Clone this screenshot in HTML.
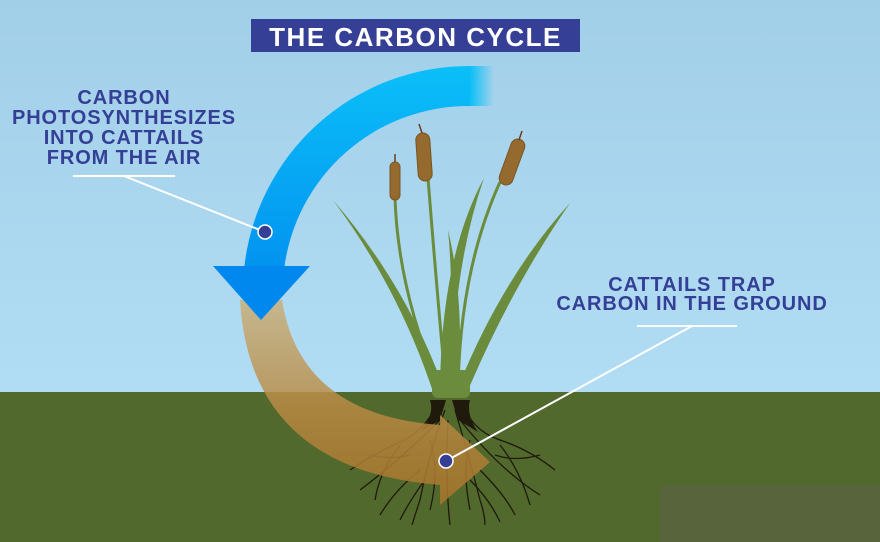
<!DOCTYPE html>
<html><head><meta charset="utf-8"><style>
html,body{margin:0;padding:0;width:880px;height:542px;overflow:hidden}
svg{display:block}
text{font-family:"Liberation Sans",sans-serif;font-weight:bold}
</style></head><body>
<svg width="880" height="542" viewBox="0 0 880 542" xmlns="http://www.w3.org/2000/svg">
<defs>
<linearGradient id="sky" x1="0" y1="0" x2="0" y2="1"><stop offset="0" stop-color="#a2cfe8"/><stop offset="1" stop-color="#b1ddf4"/></linearGradient>
<linearGradient id="blue" x1="0" y1="66" x2="0" y2="320" gradientUnits="userSpaceOnUse"><stop offset="0" stop-color="#0bbff8"/><stop offset="1" stop-color="#0088ee"/></linearGradient>
<linearGradient id="fade" x1="0" y1="0" x2="1" y2="0"><stop offset="0" stop-color="#0bbff8" stop-opacity="1"/><stop offset="1" stop-color="#0bbff8" stop-opacity="0"/></linearGradient>
<linearGradient id="brown" x1="0" y1="0" x2="0" y2="1"><stop offset="0" stop-color="#c9b17d"/><stop offset="0.5" stop-color="#b98b45"/><stop offset="1" stop-color="#a8742a"/></linearGradient>
</defs>
<rect width="880" height="392" fill="url(#sky)"/>
<rect y="392" width="880" height="150" fill="#52692d"/>
<rect x="660" y="485" width="220" height="57" fill="#58653c"/>

<!-- leaves -->
<g fill="#6b8c3c">
<path d="M434 395 Q400 290 333 200 Q410 290 446 395Z"/>
<path d="M455 395 Q500 280 570 203 Q510 290 466 395Z"/>
<path d="M440 395 Q440 260 484 178 Q452 270 452 395Z"/>
<path d="M446 395 Q455 300 448 230 Q465 300 458 395Z"/>
<rect x="432" y="370" width="38" height="28" rx="6"/>
</g>
<g fill="none" stroke="#6b8c3c" stroke-width="3">
<path d="M395 198 Q398 290 440 390"/>
<path d="M428 178 Q436 280 446 390"/>
<path d="M500 182 Q460 270 458 390"/>
</g>
<!-- cattails -->
<g fill="#956a2f" stroke="#7a5420" stroke-width="1">
<rect x="390" y="162" width="10" height="38" rx="5"/>
<rect x="417" y="133" width="14" height="48" rx="7" transform="rotate(-4 424 157)"/>
<rect x="505" y="138" width="14" height="48" rx="7" transform="rotate(20 512 162)"/>
</g>
<g stroke="#6b3e1e" stroke-width="1.5">
<line x1="395" y1="162" x2="395" y2="154"/>
<line x1="422" y1="133" x2="419" y2="124"/>
<line x1="519" y1="140" x2="522" y2="131"/>
</g>
<!-- roots -->
<g fill="none" stroke="#1f1a0c" stroke-width="1.3">
<path d="M438 400 Q430 425 405 440 Q380 450 350 470"/>
<path d="M462 400 Q470 430 500 440 Q530 450 555 470"/>
<path d="M445 410 Q430 450 420 500 Q415 515 412 525"/>
<path d="M455 410 Q470 460 480 500 Q485 515 485 525"/>
<path d="M440 420 Q400 460 360 490"/>
<path d="M460 420 Q500 470 540 495"/>
<path d="M448 420 Q445 480 450 525"/>
<path d="M400 445 Q380 470 375 500"/>
<path d="M500 445 Q520 470 530 505"/>
<path d="M420 470 Q395 490 380 515"/>
<path d="M480 470 Q505 495 515 515"/>
<path d="M430 440 Q440 470 430 510"/>
<path d="M470 440 Q462 470 470 510"/>
<path d="M410 455 Q390 460 370 455"/>
<path d="M495 455 Q515 462 540 455"/>
<path d="M425 480 Q410 500 400 520"/>
<path d="M470 480 Q490 500 500 522"/>
</g>
<path d="M430 400 Q435 415 420 432 L440 420 L446 400Z M452 400 L458 420 L478 432 Q466 415 470 400Z" fill="#1f1a0c"/>

<!-- brown arrow -->
<g opacity="0.85">
<path d="M240 300 Q250 470 440 485 L440 505 L490 462 L440 415 L440 425 Q300 415 282 300Z" fill="url(#brown)"/>
</g>
<!-- blue arrow -->
<path d="M470 66 A226 226 0 0 0 244 270 L284 270 A186 186 0 0 1 470 106Z" fill="url(#blue)"/>
<rect x="470" y="66" width="24" height="40" fill="url(#fade)"/>
<path d="M213 266 L310 266 L261 320Z" fill="#0088ee"/>

<!-- title -->
<rect x="251" y="19" width="329" height="33" fill="#353f96"/>
<text x="415.5" y="46" font-size="26" fill="#fff" text-anchor="middle" letter-spacing="1.5">THE CARBON CYCLE</text>

<!-- labels -->
<g fill="#353f96" font-size="20" text-anchor="middle" letter-spacing="0.9">
<text x="124" y="104">CARBON</text>
<text x="124" y="124">PHOTOSYNTHESIZES</text>
<text x="124" y="144">INTO CATTAILS</text>
<text x="124" y="164">FROM THE AIR</text>
<text x="692" y="291">CATTAILS TRAP</text>
<text x="692" y="310">CARBON IN THE GROUND</text>
</g>
<g stroke="#fff" stroke-width="2" fill="none">
<line x1="73" y1="176" x2="175" y2="176"/>
<line x1="124" y1="176" x2="265" y2="232"/>
<line x1="637" y1="326" x2="737" y2="326"/>
<line x1="692" y1="326" x2="446" y2="461"/>
</g>
<circle cx="265" cy="232" r="7" fill="#353f96" stroke="#fff" stroke-width="1.5"/>
<circle cx="446" cy="461" r="7" fill="#353f96" stroke="#fff" stroke-width="1.5"/>
</svg>
</body></html>
